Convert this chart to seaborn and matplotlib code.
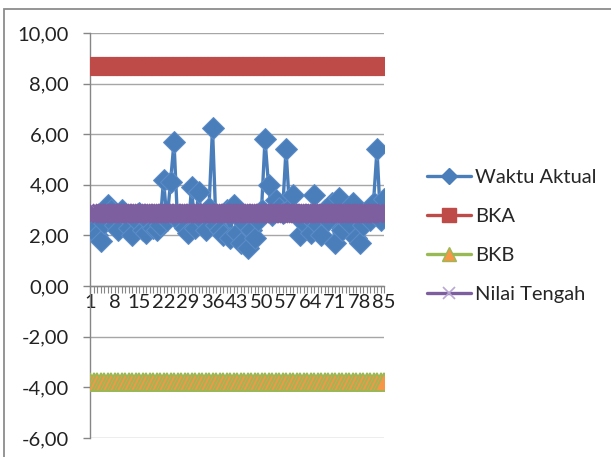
import numpy as np
import pandas as pd
import matplotlib
matplotlib.use("Agg")
import matplotlib.pyplot as plt
import seaborn as sns
from matplotlib.patches import Rectangle
from matplotlib.lines import Line2D

# Observation number and measured times
observasi = list(range(1, 86))
waktu_aktual = [
    2.35, 2.25, 2.00, 1.80, 2.50, 3.20, 3.00, 2.40, 2.20, 3.00,
    2.80, 2.30, 2.00, 2.60, 2.90, 2.20, 2.10, 2.50, 2.30, 2.20,
    2.40, 4.20, 2.60, 4.10, 5.70, 2.60, 2.50, 2.30, 2.10, 3.90,
    2.30, 3.70, 2.60, 2.20, 3.10, 6.25, 2.40, 2.20, 2.00, 3.00,
    1.90, 3.20, 2.10, 1.70, 2.50, 1.50, 2.20, 1.90, 2.60, 3.00,
    5.80, 4.00, 2.80, 3.40, 3.10, 2.90, 5.40, 3.10, 3.60, 2.80,
    2.00, 2.50, 2.80, 2.10, 3.60, 2.40, 2.00, 3.00, 2.60, 3.30,
    1.70, 3.50, 2.20, 2.80, 2.50, 3.30, 1.90, 1.70, 2.40, 2.90,
    2.60, 3.30, 5.40, 2.60, 3.45,
]
bka = 8.68          # upper control limit
bkb = -3.78         # lower control limit
nilai_tengah = 2.88 # centre line

x_labels = list(range(1, 86, 7))
y_ticks = [-6, -4, -2, 0, 2, 4, 6, 8, 10]

df = pd.DataFrame({
    "Observasi": observasi,
    "Waktu Aktual": waktu_aktual,
    "BKA": [bka] * len(observasi),
    "BKB": [bkb] * len(observasi),
    "Nilai Tengah": [nilai_tengah] * len(observasi),
})

sns.set_theme(style="white")
plt.rcParams["font.family"] = ["Lato", "DejaVu Sans"]

W, H = 611, 457
fig = plt.figure(figsize=(W / 100, H / 100), dpi=100)
ax = fig.add_axes([90 / W, 1 - 438 / H, (384 - 90) / W, (438 - 33) / H])

c_blue = "#4A7EBB"
c_red = "#BE4B48"
c_green = "#98B954"
c_orange = "#F79646"
c_purple = "#7D5FA0"

sns.lineplot(data=df, x="Observasi", y="BKA", ax=ax, color=c_red, lw=2.2,
             marker="s", markersize=12.5, markerfacecolor=c_red,
             markeredgecolor=c_red, zorder=3)
sns.lineplot(data=df, x="Observasi", y="BKB", ax=ax, color=c_green, lw=2.2,
             marker="^", markersize=13, markerfacecolor=c_orange,
             markeredgecolor=c_green, markeredgewidth=1.2, zorder=3)
sns.lineplot(data=df, x="Observasi", y="Waktu Aktual", ax=ax, color=c_blue,
             lw=2.4, marker="D", markersize=11, markerfacecolor=c_blue,
             markeredgecolor="#5B8CC8", zorder=4)
sns.lineplot(data=df, x="Observasi", y="Nilai Tengah", ax=ax, color=c_purple,
             lw=2.2, marker="x", markersize=13, markeredgewidth=2.2,
             markeredgecolor=c_purple, zorder=5)

ax.set_xlim(1, 85)
ax.set_ylim(-6, 10)
ax.set_xlabel("")
ax.set_ylabel("")

ax.set_yticks(y_ticks)
ax.set_yticklabels([f"{v:.2f}".replace(".", ",") for v in y_ticks])
ax.yaxis.grid(True, color="#A6A6A6", lw=1.0)
ax.xaxis.grid(False)
ax.set_axisbelow(True)

ax.set_xticks(x_labels)
ax.set_xticklabels([str(v) for v in x_labels])
ax.set_xticks(observasi, minor=True)

for s in ["top", "right"]:
    ax.spines[s].set_visible(False)
ax.spines["left"].set_color("#868686")
ax.spines["bottom"].set_color("#868686")
ax.spines["bottom"].set_position(("data", 0))
ax.spines["left"].set_linewidth(1.0)
ax.spines["bottom"].set_linewidth(1.0)

ax.tick_params(axis="y", which="major", left=True, length=5, width=1,
               color="#868686", labelsize=14.5, labelcolor="#222222", pad=10)
ax.tick_params(axis="x", which="both", bottom=True, direction="out",
               length=5, width=0.8, color="#868686")
ax.tick_params(axis="x", which="major", labelsize=14.5, labelcolor="#222222",
               pad=1)

handles = [
    Line2D([], [], color=c_blue, lw=2.4, marker="D", markersize=8,
           markerfacecolor=c_blue, markeredgecolor=c_blue),
    Line2D([], [], color=c_red, lw=2.4, marker="s", markersize=10,
           markerfacecolor=c_red, markeredgecolor=c_red),
    Line2D([], [], color=c_green, lw=2.4, marker="^", markersize=10,
           markerfacecolor=c_orange, markeredgecolor=c_green),
    Line2D([], [], color=c_purple, lw=2.4, marker="x", markersize=9,
           markeredgewidth=1.2, markeredgecolor="#B9A6D3"),
]
fig.legend(handles, ["Waktu Aktual", "BKA", "BKB", "Nilai Tengah"],
           loc="upper left", bbox_to_anchor=(419 / W, 1 - 161 / H),
           frameon=False, fontsize=14.5, handlelength=2.2,
           handletextpad=0.2, labelspacing=1.08, borderaxespad=0)

# chart frame
fig.patches.append(Rectangle((4 / W, -0.1), 1.2, 1 - 9 / H + 0.1,
                             transform=fig.transFigure, fill=False,
                             edgecolor="#8C8C8C", lw=1.3))

fig.savefig("out.png", dpi=100)
